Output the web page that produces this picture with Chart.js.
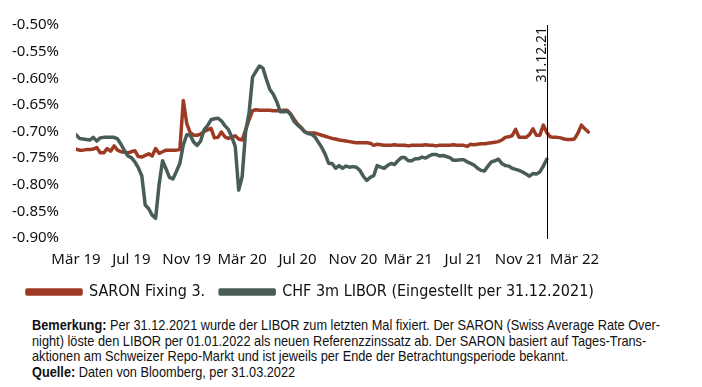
<!DOCTYPE html>
<html>
<head>
<meta charset="utf-8">
<script src="https://cdn.jsdelivr.net/npm/chart.js@4.4.1/dist/chart.umd.min.js"></script>
<style>
  body { margin: 0; background: #fff; }
  #wrap { position: relative; width: 702px; height: 387px; }
  #box { position: absolute; left: 0; top: 0; width: 702px; height: 310px; }
  #note {
    position: absolute; left: 32px; top: 318px;
    font-family: 'Liberation Sans', Arial, sans-serif;
    font-size: 14.5px; line-height: 15.6px; color: #111; white-space: nowrap;
    transform: scaleX(0.88); transform-origin: 0 0;
  }
</style>
</head>
<body>
<div id="wrap">
  <div id="box"><canvas id="chart"></canvas></div>
  <div id="note">
    <b>Bemerkung:</b> Per 31.12.2021 wurde der LIBOR zum letzten Mal fixiert. Der SARON (Swiss Average Rate Over-<br>
    night) löste den LIBOR per 01.01.2022 als neuen Referenzzinssatz ab. Der SARON basiert auf Tages-Trans-<br>
    aktionen am Schweizer Repo-Markt und ist jeweils per Ende der Betrachtungsperiode bekannt.<br>
    <b>Quelle:</b> Daten von Bloomberg, per 31.03.2022
  </div>
</div>
<script>
// x = Monate seit März 2019, Werte je Viertelmonat
const stepMonths = 0.25
const tickMonths = [0, 4, 8, 12, 16, 20, 24, 28, 32, 36]
const tickLabels = ['Mär 19', 'Jul 19', 'Nov 19', 'Mär 20', 'Jul 20', 'Nov 20', 'Mär 21', 'Jul 21', 'Nov 21', 'Mär 22']
const yTicks = [-0.50, -0.55, -0.60, -0.65, -0.70, -0.75, -0.80, -0.85, -0.90]
const cutoffMonth = 34
const cutoffLabel = '31.12.21'

const saronName = 'SARON Fixing 3.'
const liborName = 'CHF 3m LIBOR (Eingestellt per 31.12.2021)'

const saron = [
  -0.733, -0.735, -0.735, -0.734, -0.734, -0.733, -0.730, -0.740, -0.740, -0.732,
  -0.737, -0.727, -0.735, -0.738, -0.739, -0.740, -0.738, -0.736, -0.747, -0.748,
  -0.745, -0.742, -0.746, -0.732, -0.741, -0.738, -0.735, -0.735, -0.735, -0.735,
  -0.734, -0.642, -0.685, -0.702, -0.707, -0.707, -0.705, -0.700, -0.697, -0.694,
  -0.712, -0.711, -0.701, -0.710, -0.713, -0.711, -0.708, -0.714, -0.716, -0.697,
  -0.678, -0.661, -0.659, -0.660, -0.660, -0.660, -0.660, -0.661, -0.661, -0.661,
  -0.660, -0.660, -0.667, -0.677, -0.686, -0.692, -0.700, -0.703, -0.703, -0.703,
  -0.705, -0.707, -0.709, -0.711, -0.713, -0.714, -0.716, -0.717, -0.718, -0.719,
  -0.720, -0.721, -0.721, -0.721, -0.721, -0.722, -0.726, -0.724, -0.725, -0.726,
  -0.726, -0.726, -0.725, -0.726, -0.726, -0.726, -0.727, -0.726, -0.726, -0.726,
  -0.726, -0.725, -0.726, -0.726, -0.727, -0.726, -0.726, -0.726, -0.726, -0.725,
  -0.726, -0.726, -0.726, -0.728, -0.724, -0.725, -0.724, -0.723, -0.723, -0.722,
  -0.721, -0.720, -0.719, -0.716, -0.711, -0.710, -0.708, -0.696, -0.711, -0.711,
  -0.711, -0.706, -0.695, -0.707, -0.707, -0.688, -0.702, -0.710, -0.711, -0.711,
  -0.712, -0.714, -0.715, -0.715, -0.714, -0.703, -0.688, -0.695, -0.701
]

const libor = [
  -0.706, -0.713, -0.714, -0.715, -0.716, -0.711, -0.718, -0.712, -0.711, -0.711,
  -0.711, -0.711, -0.714, -0.724, -0.736, -0.746, -0.749, -0.757, -0.768, -0.783,
  -0.838, -0.845, -0.857, -0.863, -0.800, -0.755, -0.770, -0.786, -0.789, -0.775,
  -0.760, -0.725, -0.706, -0.707, -0.720, -0.726, -0.718, -0.697, -0.689, -0.678,
  -0.676, -0.675, -0.680, -0.689, -0.696, -0.710, -0.728, -0.810, -0.785, -0.700,
  -0.665, -0.598, -0.587, -0.577, -0.581, -0.602, -0.621, -0.630, -0.644, -0.663,
  -0.663, -0.662, -0.668, -0.681, -0.688, -0.693, -0.700, -0.704, -0.705, -0.710,
  -0.720, -0.730, -0.743, -0.760, -0.760, -0.769, -0.764, -0.769, -0.765, -0.767,
  -0.766, -0.767, -0.773, -0.784, -0.792, -0.786, -0.783, -0.764, -0.767, -0.769,
  -0.764, -0.760, -0.762, -0.755, -0.749, -0.749, -0.755, -0.755, -0.751, -0.751,
  -0.748, -0.750, -0.746, -0.743, -0.743, -0.746, -0.745, -0.747, -0.749, -0.754,
  -0.754, -0.753, -0.753, -0.757, -0.760, -0.763, -0.769, -0.773, -0.774, -0.765,
  -0.757, -0.755, -0.752, -0.760, -0.764, -0.765, -0.769, -0.771, -0.773, -0.776,
  -0.780, -0.784, -0.779, -0.780, -0.776, -0.765, -0.752
]

function toPoints(values) {
  return values.map((v, i) => ({ x: i * stepMonths, y: v }))
}

const axisFont = { family: "'Noto Sans', sans-serif", size: 15 }

const cutoffLine = {
  id: 'cutoffLine',
  afterDatasetsDraw(chart) {
    const { ctx, chartArea, scales } = chart
    const x = Math.round(scales.x.getPixelForValue(cutoffMonth)) + 0.5
    ctx.save()
    ctx.strokeStyle = '#000'
    ctx.lineWidth = 1
    ctx.beginPath()
    ctx.moveTo(x, chartArea.top)
    ctx.lineTo(x, chartArea.bottom + 1)
    ctx.stroke()
    ctx.translate(x - 1.5, chartArea.top + 2)
    ctx.rotate(-Math.PI / 2)
    ctx.font = "14px 'Noto Sans', sans-serif"
    ctx.fillStyle = '#111'
    ctx.textAlign = 'right'
    ctx.textBaseline = 'alphabetic'
    ctx.fillText(cutoffLabel, 0, 0)
    ctx.restore()
  }
}

let ctx = document.getElementById('chart').getContext('2d')
let chart = new Chart(ctx, {
  type: 'line',
  data: {
    datasets: [
      {
        label: saronName,
        data: toPoints(saron),
        borderColor: '#9d3a24',
        backgroundColor: '#9d3a24',
        borderWidth: 3.5,
        pointRadius: 0,
        borderJoinStyle: 'round',
        borderCapStyle: 'round',
        order: 2
      },
      {
        label: liborName,
        data: toPoints(libor),
        borderColor: '#485d55',
        backgroundColor: '#485d55',
        borderWidth: 3.5,
        pointRadius: 0,
        borderJoinStyle: 'round',
        borderCapStyle: 'round',
        order: 1
      }
    ]
  },
  options: {
    responsive: true,
    maintainAspectRatio: false,
    animation: false,
    layout: { padding: { left: 12, right: 14, top: 25, bottom: 0 } },
    scales: {
      x: {
        type: 'linear',
        min: 0,
        max: 44.2,
        grid: { display: false, drawTicks: false },
        border: { display: false },
        afterBuildTicks: (scale) => { scale.ticks = tickMonths.map(v => ({ value: v })) },
        afterFit: (scale) => { scale.height = 31 },
        ticks: {
          autoSkip: false,
          maxRotation: 0,
          padding: 13,
          color: '#111',
          font: axisFont,
          callback: (v) => tickLabels[tickMonths.indexOf(v)] || ''
        }
      },
      y: {
        min: -0.90,
        max: -0.50,
        grid: { display: false, drawTicks: false },
        border: { display: false },
        afterBuildTicks: (scale) => { scale.ticks = yTicks.map(v => ({ value: v })) },
        afterFit: (scale) => { scale.width = 64 },
        ticks: {
          crossAlign: 'far',
          color: '#111',
          font: axisFont,
          callback: (v) => v.toFixed(2) + '%'
        }
      }
    },
    plugins: {
      legend: {
        position: 'bottom',
        align: 'start',
        labels: {
          boxWidth: 54,
          boxHeight: 4,
          padding: 15,
          color: '#111',
          font: { family: "'DejaVu Sans Condensed', 'Liberation Sans Narrow', sans-serif", size: 16 },
          sort: (a, b) => a.datasetIndex - b.datasetIndex
        }
      },
      tooltip: { enabled: false }
    }
  },
  plugins: [cutoffLine]
})
</script>
</body>
</html>
